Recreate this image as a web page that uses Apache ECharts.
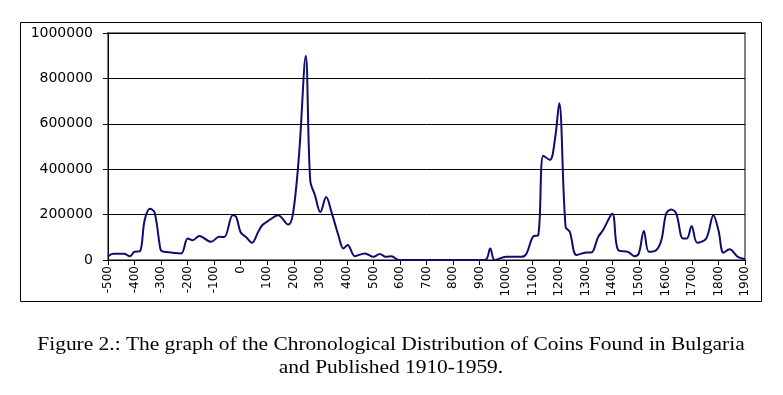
<!DOCTYPE html>
<html>
<head>
<meta charset="utf-8">
<script src="https://cdn.jsdelivr.net/npm/echarts@6/dist/echarts.min.js"></script>
<style>html,body{margin:0;padding:0;background:#fff;}#c{width:783px;height:395px;}</style>
</head>
<body>
<div id="c"></div>
<script>
var years = [-500,-480,-440,-417,-400,-380,-362,-342,-325,-306,-300,-281,-225,-200,-181,-156,-112,-81,-62,-30,-17,0,19,42,66,81,107,141,179,197,220,245,262,280,300,322,342,368,387,403,430,468,500,524,547,568,595,920,940,957,1000,1058,1077,1102,1121,1140,1165,1184,1200,1224,1240,1265,1302,1321,1347,1365,1400,1422,1459,1484,1500,1519,1538,1566,1585,1603,1622,1641,1666,1681,1699,1720,1754,1781,1800,1819,1842,1873,1900];
var coins = [15000,27000,27000,17000,36000,38000,175000,226000,211000,73000,41000,35000,29000,95000,87000,106000,80000,102000,101000,197000,190000,121000,102000,76000,124000,153000,175000,197000,156000,204000,467000,900000,350000,284000,211000,277000,211000,109000,51000,66000,17000,29000,14000,26000,14000,17000,0,0,51000,0,14000,14000,29000,104000,109000,459000,441000,532000,690000,146000,124000,22000,33000,33000,102000,131000,204000,44000,36000,17000,29000,128000,36000,44000,88000,204000,223000,204000,95000,95000,150000,76000,95000,197000,131000,32000,47000,14000,4000];
var yTicks = [0,200000,400000,600000,800000,1000000];
var captionLines = ['Figure 2.: The graph of the Chronological Distribution of Coins Found in Bulgaria','and Published 1910-1959.'];

var seriesData = years.map(function(y,i){return [y, coins[i]];});
var chart = echarts.init(document.getElementById('c'));
chart.setOption({
  animation:false,
  backgroundColor:'#fff',
  grid:{left:108,right:38,top:33,bottom:135,show:true,borderColor:'#808080',borderWidth:2,backgroundColor:'transparent'},
  xAxis:{type:'value',min:-500,max:1900,interval:100,
    axisLine:{show:true,onZero:false,lineStyle:{color:'#000',width:1}},
    axisTick:{show:true,length:5,lineStyle:{color:'#000'}},
    splitLine:{show:false},
    axisLabel:{rotate:90,color:'#000',fontFamily:'DejaVu Sans',fontSize:12,margin:6,
      formatter:function(v){return String(v);}}},
  yAxis:{type:'value',min:0,max:1000000,interval:200000,
    axisLine:{show:true,onZero:false,lineStyle:{color:'#000',width:1}},
    axisTick:{show:true,length:5,lineStyle:{color:'#000'}},
    splitLine:{show:true,lineStyle:{color:'#000',width:1}},
    axisLabel:{color:'#000',fontFamily:'DejaVu Sans',fontSize:14,margin:15,
      formatter:function(v){return yTicks.indexOf(v)>=0?String(v):'';}}},
  series:[{type:'line',data:seriesData,smooth:0.35,showSymbol:false,
    lineStyle:{color:'#0d0d70',width:2}}],
  graphic:[
    {type:'rect',shape:{x:20.5,y:22.5,width:741,height:279},style:{fill:'none',stroke:'#000',lineWidth:1},z:-1},
    {type:'text',x:391,y:334,scaleX:1.19,style:{text:captionLines.join('\n'),font:'18px "Liberation Serif"',fill:'#000',textAlign:'center',lineHeight:23}}
  ]
});
</script>
</body>
</html>
